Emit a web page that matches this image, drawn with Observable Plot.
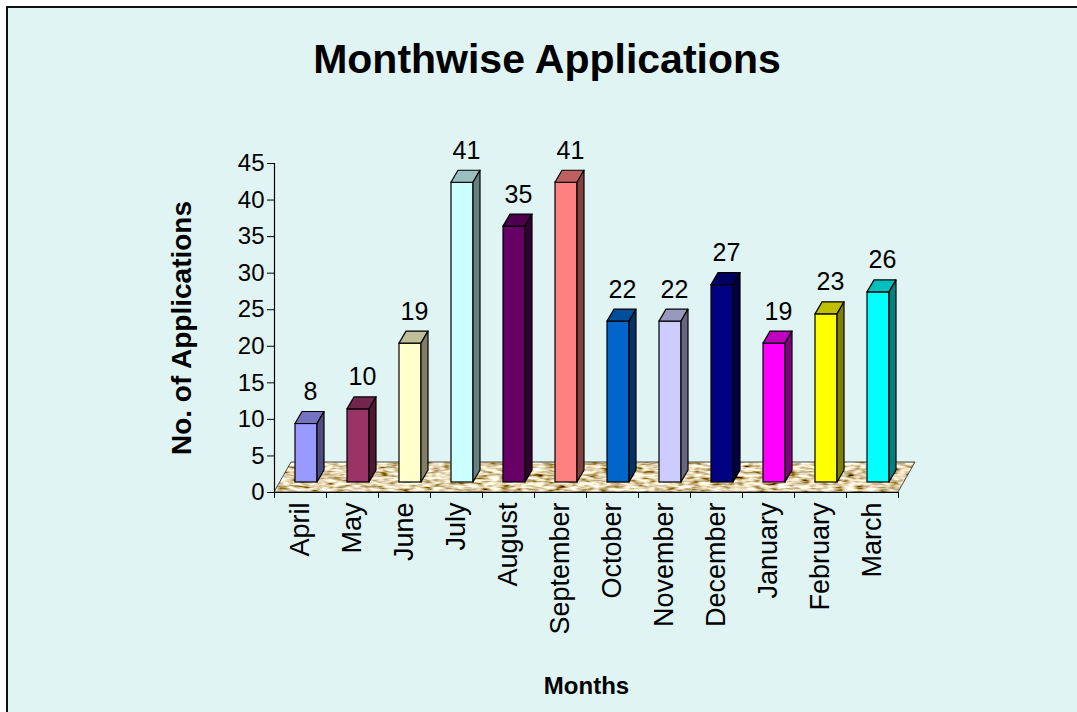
<!DOCTYPE html>
<html>
<head>
<meta charset="utf-8">
<script src="https://cdn.jsdelivr.net/npm/d3@7"></script>
<script src="https://cdn.jsdelivr.net/npm/@observablehq/plot@0.6"></script>
<style>
html, body { margin: 0; padding: 0; background: #fff; width: 1077px; height: 712px; overflow: hidden; font-family: "Liberation Sans", Arial, sans-serif; }
#frame { position: absolute; left: 6px; top: 6px; width: 1100px; height: 720px; background: #E1F4F4; border-left: 2px solid #111; border-top: 2px solid #111; }
#title { position: absolute; left: 0; top: 39px; width: 1094px; text-align: center; font-weight: bold; font-size: 41px; line-height: 41px; color: #000; }
#chart { position: absolute; left: 0; top: 0; }
</style>
</head>
<body>
<div id="frame"></div>
<div id="title">Monthwise Applications</div>
<div id="chart"></div>
<script>
const months = ["April", "May", "June", "July", "August", "September", "October", "November", "December", "January", "February", "March"];
const values = [8, 10, 19, 41, 35, 41, 22, 22, 27, 19, 23, 26];
const barColors = ["#9999FF", "#993366", "#FFFFCC", "#CCFFFF", "#660066", "#FF8080", "#0066CC", "#CCCCFF", "#000080", "#FF00FF", "#FFFF00", "#00FFFF"];
const yTicks = [0, 5, 10, 15, 20, 25, 30, 35, 40, 45];
const yLabel = "No. of Applications";
const xLabel = "Months";

const data = months.map((m, i) => ({month: m, value: values[i], color: barColors[i]}));

const shade = (c, k) => { const r = d3.rgb(c); return d3.rgb(r.r * k, r.g * k, r.b * k).formatHex(); };

// 3D geometry (styling constants, pixels)
const barShiftX = 6, barShiftY = -10, depthX = 7, depthY = -12, floorDX = 17, floorDY = -30;

const chart = Plot.plot({
  width: 1077,
  height: 712,
  marginLeft: 274,
  marginRight: 179,
  marginTop: 163,
  marginBottom: 220,
  style: {background: "transparent", fontFamily: "Liberation Sans, Arial, sans-serif", color: "#000", overflow: "visible"},
  x: {domain: months, padding: 0, axis: null},
  y: {domain: [0, 45], axis: null},
  color: {type: "identity"},
  marks: [
    Plot.barY(data, {x: "month", y: "value", fill: "color", stroke: "#000", strokeWidth: 1.2, insetLeft: 15, insetRight: 15, dx: barShiftX, dy: barShiftY}),
    Plot.ruleY([0], {stroke: "#000", strokeWidth: 1.2}),
    Plot.ruleX([months[0]], {dx: -26, stroke: "#000", strokeWidth: 1.2}),
    Plot.axisY({ticks: yTicks, tickSize: 7, tickPadding: 3, fontSize: 24, label: null, stroke: "#000"}),
    Plot.axisX({tickSize: 6, dx: -26, tickFormat: () => "", label: null}),
    Plot.axisX({ticks: [months[months.length - 1]], tickSize: 6, dx: 26, tickFormat: () => "", label: null}),
    Plot.axisX({tickSize: 0, tickPadding: 10, tickRotate: -90, fontSize: 27, label: null}),
    Plot.text(data, {x: "month", y: "value", text: d => String(d.value), dx: 10, dy: -42, fontSize: 25, fill: "#000"}),
    Plot.text([yLabel], {frameAnchor: "left", textAnchor: "middle", dx: -92, rotate: -90, fontWeight: "bold", fontSize: 28, fill: "#000"}),
    Plot.text([xLabel], {frameAnchor: "bottom", dy: 201, fontWeight: "bold", fontSize: 24, fill: "#000"})
  ]
});
document.getElementById("chart").appendChild(chart);

// 3D decorations drawn through the chart's own scales
const xs = chart.scale("x"), ys = chart.scale("y");
const bw = xs.bandwidth;
const [rx0, rx1] = xs.range;
const y0 = ys.apply(0);
const svg = d3.select(chart);

const defs = svg.insert("defs", ":first-child");
const filt = defs.append("filter").attr("id", "cork").attr("x", 0).attr("y", 0).attr("width", 1).attr("height", 1);
filt.append("feTurbulence").attr("type", "fractalNoise").attr("baseFrequency", "0.09 0.35").attr("numOctaves", 2).attr("seed", 3).attr("result", "n");
filt.append("feColorMatrix").attr("in", "n").attr("type", "matrix")
  .attr("values", "2.0 0 0 0 -0.22  2.0 0 0 0 -0.34  2.0 0 0 0 -0.55  0 0 0 0 1").attr("result", "c");
filt.append("feComposite").attr("in", "c").attr("in2", "SourceGraphic").attr("operator", "in");

const floorPts = [[rx0, y0], [rx1, y0], [rx1 + floorDX, y0 + floorDY], [rx0 + floorDX, y0 + floorDY]];
const floorG = svg.insert("g", "defs + *");
floorG.append("polygon").attr("points", floorPts.map(p => p.join(",")).join(" ")).attr("fill", "#CDB283").attr("filter", "url(#cork)");
floorG.append("polygon").attr("points", floorPts.map(p => p.join(",")).join(" ")).attr("fill", "none").attr("stroke", "#222").attr("stroke-width", 0.8);

const faceG = svg.append("g").attr("stroke", "#000").attr("stroke-width", 1.2).attr("stroke-linejoin", "round");
data.forEach(d => {
  const xl = xs.apply(d.month) + 15 + barShiftX;
  const xr = xs.apply(d.month) + bw - 15 + barShiftX;
  const yt = ys.apply(d.value) + barShiftY;
  const yb = y0 + barShiftY;
  faceG.append("polygon")
    .attr("points", [[xl, yt], [xr, yt], [xr + depthX, yt + depthY], [xl + depthX, yt + depthY]].map(p => p.join(",")).join(" "))
    .attr("fill", shade(d.color, 0.75));
  faceG.append("polygon")
    .attr("points", [[xr, yt], [xr + depthX, yt + depthY], [xr + depthX, yb + depthY], [xr, yb]].map(p => p.join(",")).join(" "))
    .attr("fill", shade(d.color, 0.5));
});
</script>
</body>
</html>
